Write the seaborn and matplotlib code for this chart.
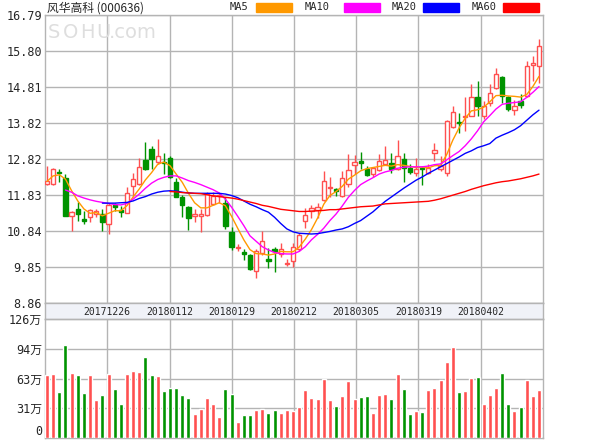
import numpy as np
import pandas as pd
import matplotlib
matplotlib.use("Agg")
import matplotlib.pyplot as plt
import seaborn as sns
from matplotlib.patches import Rectangle

nan = np.nan

# ---- data (81 trading days) ----
title = "风华高科 (000636)"
date_labels = ["20171226", "20180112", "20180129", "20180212", "20180305", "20180319", "20180402"]
price_ticks = [8.86, 9.85, 10.84, 11.83, 12.82, 13.82, 14.81, 15.80, 16.79]
price_labels = ["8.86", "9.85", "10.84", "11.83", "12.82", "13.82", "14.81", "15.80", "16.79"]
vol_ticks = [0, 31.5, 63, 94.5, 126]
vol_labels = ["0", "31万", "63万", "94万", "126万"]

opens = [12.15, 12.13, 12.48, 12.30, 11.25, 11.46, 11.17, 11.23, 11.31, 11.31,
         11.03, 11.56, 11.42, 11.35, 12.09, 12.13, 12.79, 13.10, 12.73, 12.75,
         12.85, 12.18, 11.77, 11.51, 11.26, 11.26, 11.27, 11.58, 11.80, 11.60,
         10.82, 10.37, 10.26, 10.19, 9.73, 10.25, 10.07, 10.34, 10.22, 9.93,
         10.02, 10.34, 11.12, 11.38, 11.43, 11.69, 12.02, 12.00, 11.80, 12.15,
         12.66, 12.76, 12.54, 12.41, 12.52, 12.68, 12.72, 12.54, 12.83, 12.59,
         12.43, 12.59, 12.45, 12.98, 12.54, 12.45, 13.71, 13.85, 13.99, 14.01,
         14.53, 14.01, 14.38, 14.79, 15.09, 14.52, 14.17, 14.41, 14.56, 15.41,
         15.39]
closes = [12.22, 12.54, 12.43, 11.26, 11.37, 11.32, 11.12, 11.41, 11.40, 11.08,
          11.56, 11.49, 11.37, 11.88, 12.27, 12.61, 12.54, 12.82, 12.91, 12.72,
          12.33, 11.78, 11.56, 11.20, 11.30, 11.31, 11.85, 11.80, 11.83, 10.97,
          10.39, 10.40, 10.22, 9.79, 10.28, 10.57, 10.02, 10.30, 10.34, 9.95,
          10.39, 10.74, 11.29, 11.47, 11.51, 12.22, 12.05, 11.95, 12.30, 12.52,
          12.73, 12.72, 12.39, 12.57, 12.76, 12.79, 12.55, 12.90, 12.57, 12.48,
          12.56, 12.55, 12.59, 13.07, 12.62, 13.87, 14.13, 13.81, 13.99, 14.53,
          14.29, 14.29, 14.64, 15.16, 14.56, 14.20, 14.29, 14.31, 15.39, 15.48,
          15.94]
highs = [12.64, 12.57, 12.56, 12.41, 11.40, 11.63, 11.40, 11.46, 11.44, 11.44,
         11.60, 11.60, 11.54, 12.06, 12.45, 12.85, 13.28, 13.19, 13.37, 13.00,
         12.91, 12.31, 11.84, 11.54, 11.45, 11.45, 11.93, 11.91, 11.90, 11.78,
         10.96, 10.48, 10.34, 10.22, 10.34, 10.84, 10.37, 10.39, 10.50, 10.07,
         10.50, 10.80, 11.47, 11.56, 11.60, 12.50, 12.32, 12.04, 12.50, 12.96,
         12.94, 13.03, 12.64, 12.61, 12.96, 13.17, 13.00, 13.35, 12.98, 12.68,
         12.85, 12.64, 12.68, 13.26, 12.91, 13.89, 14.29, 14.10, 14.52, 14.90,
         14.96, 14.41, 14.90, 15.34, 15.11, 14.56, 14.44, 14.61, 15.52, 15.66,
         16.12]
lows = [12.12, 12.12, 12.18, 11.26, 10.84, 11.11, 11.03, 11.08, 11.23, 10.84,
        10.76, 11.40, 11.23, 11.33, 11.77, 12.11, 12.52, 12.54, 12.68, 12.42,
        12.31, 11.77, 11.23, 10.86, 11.09, 10.82, 11.25, 11.56, 11.62, 10.90,
        10.32, 10.28, 10.04, 9.77, 9.55, 10.19, 9.82, 9.70, 10.13, 9.89,
        9.84, 10.28, 10.92, 11.20, 11.20, 11.66, 11.78, 11.81, 11.78, 12.06,
        12.41, 12.54, 12.36, 12.32, 12.50, 12.68, 12.45, 12.52, 12.18, 12.41,
        12.36, 12.11, 12.41, 12.78, 12.50, 12.35, 13.69, 13.55, 13.60, 14.01,
        14.01, 13.92, 14.29, 14.75, 14.38, 14.15, 14.04, 14.24, 14.53, 14.98,
        14.93]
volumes = [67, 68, 49, 99, 69, 67, 48, 67, 40, 46,
           68, 52, 36, 68, 71, 70, 86, 67, 66, 50,
           53, 53, 46, 42, 25, 31, 42, 36, 22, 52,
           47, 17, 24, 24, 30, 31, 27, 30, 27, 30,
           29, 33, 51, 42, 41, 63, 40, 34, 44, 60,
           41, 43, 45, 27, 46, 47, 41, 68, 52, 25,
           29, 28, 51, 53, 61, 81, 96, 49, 50, 64,
           65, 36, 46, 53, 69, 36, 29, 33, 61, 45,
           51]

ma5 = [12.21, 12.36, 12.39, 12.27, 11.95, 11.67, 11.45, 11.33, 11.35, 11.26,
       11.33, 11.40, 11.40, 11.54, 11.78, 12.00, 12.25, 12.45, 12.68, 12.74,
       12.64, 12.41, 12.18, 11.88, 11.62, 11.48, 11.48, 11.55, 11.62, 11.54,
       11.25, 10.92, 10.60, 10.33, 10.22, 10.21, 10.18, 10.21, 10.28, 10.27,
       10.27, 10.40, 10.62, 10.88, 11.20, 11.58, 11.82, 11.93, 12.07, 12.27,
       12.38, 12.50, 12.56, 12.59, 12.62, 12.65, 12.63, 12.67, 12.65, 12.62,
       12.59, 12.60, 12.58, 12.64, 12.65, 12.95, 13.35, 13.68, 13.95, 14.15,
       14.18, 14.25, 14.40, 14.57, 14.58, 14.56, 14.55, 14.53, 14.60, 14.82,
       15.10]
ma10 = [nan, nan, nan, 11.97, 11.91, 11.81, 11.75, 11.70, 11.66, 11.63,
        11.60, 11.57, 11.56, 11.60, 11.72, 11.86, 12.02, 12.16, 12.26, 12.32,
        12.36, 12.36, 12.30, 12.23, 12.18, 12.12, 12.05, 11.98, 11.89, 11.72,
        11.50, 11.25, 10.99, 10.71, 10.56, 10.41, 10.32, 10.25, 10.22, 10.21,
        10.21, 10.28, 10.41, 10.60, 10.75, 10.92, 11.13, 11.31, 11.53, 11.77,
        11.96, 12.12, 12.22, 12.31, 12.41, 12.47, 12.51, 12.57, 12.60, 12.61,
        12.61, 12.61, 12.63, 12.67, 12.69, 12.80, 12.92, 13.03, 13.19, 13.38,
        13.60, 13.85, 14.02, 14.20, 14.33, 14.36, 14.38, 14.40, 14.52, 14.66,
        14.82]
ma20 = [nan, nan, nan, nan, nan, nan, nan, nan, nan, 11.61,
        11.61, 11.61, 11.62, 11.63, 11.67, 11.74, 11.79, 11.86, 11.91, 11.94,
        11.95, 11.94, 11.91, 11.89, 11.88, 11.88, 11.88, 11.88, 11.88, 11.86,
        11.82, 11.76, 11.67, 11.58, 11.51, 11.43, 11.36, 11.22, 11.05, 10.90,
        10.82, 10.78, 10.77, 10.76, 10.77, 10.80, 10.83, 10.87, 10.90, 10.96,
        11.05, 11.13, 11.25, 11.37, 11.52, 11.66, 11.78, 11.90, 12.02, 12.13,
        12.24, 12.33, 12.43, 12.52, 12.61, 12.70, 12.79, 12.88, 12.98, 13.05,
        13.14, 13.19, 13.25, 13.40, 13.48, 13.55, 13.63, 13.74, 13.89, 14.04,
        14.17]
ma60 = [nan, nan, nan, nan, nan, nan, nan, nan, nan, nan,
        nan, nan, nan, nan, nan, nan, nan, nan, nan, nan,
        11.93, 11.92, 11.90, 11.89, 11.88, 11.87, 11.84, 11.81, 11.79, 11.77,
        11.75, 11.72, 11.68, 11.64, 11.60, 11.55, 11.52, 11.48, 11.44, 11.42,
        11.40, 11.38, 11.38, 11.39, 11.40, 11.41, 11.43, 11.43, 11.45, 11.47,
        11.49, 11.51, 11.52, 11.53, 11.56, 11.59, 11.60, 11.61, 11.62, 11.63,
        11.64, 11.65, 11.66, 11.69, 11.73, 11.78, 11.83, 11.88, 11.93, 11.99,
        12.04, 12.09, 12.13, 12.17, 12.20, 12.22, 12.25, 12.28, 12.32, 12.36,
        12.41]

ma_names = ["MA5", "MA10", "MA20", "MA60"]
ma_colors = {"MA5": "#ff9900", "MA10": "#ff00ff", "MA20": "#0000ff", "MA60": "#ff0000"}

UP = "#ff5050"
DOWN = "#009300"
GRID = "#b4b4b4"

sns.set_style("white")
plt.rcParams['font.family'] = ['DejaVu Sans Mono', 'Noto Sans CJK SC']

W, H = 600, 440


def box(l, t, r, b):
    # pixel box -> figure fraction
    return [l / W, 1 - b / H, (r - l) / W, (b - t) / H]


fig = plt.figure(figsize=(6, 4.4), dpi=100)
ax = fig.add_axes(box(45, 15, 543, 303))
band = fig.add_axes(box(45, 303, 543, 319))
axv = fig.add_axes(box(45, 319, 543, 438))

o = np.array(opens)
c = np.array(closes)
idx = np.arange(len(c))
up = c >= o
xmin, xmax = -0.33, 80.65
vgrid = [xmin + k * (xmax - xmin) / 8 for k in range(1, 8)]

# ---- candles ----
ax.vlines(idx, lows, highs, colors=np.where(up, UP, DOWN), lw=1, zorder=3)
body_h = np.maximum(np.abs(c - o), 0.02)
ax.bar(idx, body_h, bottom=np.minimum(o, c), width=0.7,
       color=np.where(up, "white", DOWN), edgecolor=np.where(up, UP, DOWN),
       lw=1, zorder=4)

ma_df = pd.DataFrame({"x": idx, "MA5": ma5, "MA10": ma10, "MA20": ma20, "MA60": ma60})
ma_long = ma_df.melt(id_vars="x", var_name="ma", value_name="v").dropna()
sns.lineplot(data=ma_long, x="x", y="v", hue="ma", palette=ma_colors,
             estimator=None, lw=1, legend=False, ax=ax, zorder=5)

ax.set_xlim(xmin, xmax)
ax.set_ylim(price_ticks[0], price_ticks[-1])
ax.set_yticks(price_ticks)
ax.set_yticklabels(price_labels, fontsize=8.5)
ax.set_xticks(vgrid)
ax.set_xticklabels([])
ax.set_xlabel("")
ax.set_ylabel("")

# ---- volume ----
vol_df = pd.DataFrame({"x": idx, "vol": volumes, "dir": np.where(up, "up", "down")})
sns.barplot(data=vol_df, x="x", y="vol", hue="dir", palette={"up": UP, "down": DOWN},
            native_scale=True, dodge=False, width=0.65, saturation=1,
            legend=False, ax=axv, zorder=3)
axv.set_xlim(xmin, xmax)
axv.set_ylim(0, 126)
axv.set_yticks(vol_ticks)
axv.set_yticklabels(vol_labels, fontsize=8.5)
axv.get_yticklabels()[0].set_va("bottom")
axv.set_xticks(vgrid)
axv.set_xticklabels([])
axv.set_xlabel("")
axv.set_ylabel("")

# ---- date band ----
band.set_facecolor("#f0f2f8")
band.set_xlim(xmin, xmax)
band.set_ylim(0, 1)
band.set_xticks([])
band.set_yticks([])
for xp, lab in zip(vgrid, date_labels):
    band.text(xp, 0.45, lab, ha="center", va="center", fontsize=7)

for a in (ax, axv, band):
    for s in a.spines.values():
        s.set_color(GRID)
        s.set_linewidth(1)
for a in (ax, axv):
    a.grid(True, color=GRID, lw=1)
    a.set_axisbelow(True)
    a.tick_params(length=0, pad=2)

# ---- header ----
fig.text(47 / W, 1 - 8 / H, title, fontsize=8.5, va="center",
         family=["Noto Sans CJK SC", "DejaVu Sans"])
# faint watermark
for ch, px in zip(["S", "O", "H", "U", ".com"], [48, 63, 80, 96, 109]):
    fig.text(px / W, 1 - 32 / H, ch, fontsize=14, va="center",
             color="#dedede", family="DejaVu Sans Condensed")
legend_pos = [(230, 256), (305, 344), (392, 423), (472, 503)]
for name, (tx, bx) in zip(ma_names, legend_pos):
    fig.text(tx / W, 1 - 7.5 / H, name, fontsize=7.5, va="center")
    fig.add_artist(Rectangle((bx / W, 1 - 12 / H), 36 / W, 9 / H,
                             transform=fig.transFigure, color=ma_colors[name]))

fig.savefig("out.png", dpi=100)
